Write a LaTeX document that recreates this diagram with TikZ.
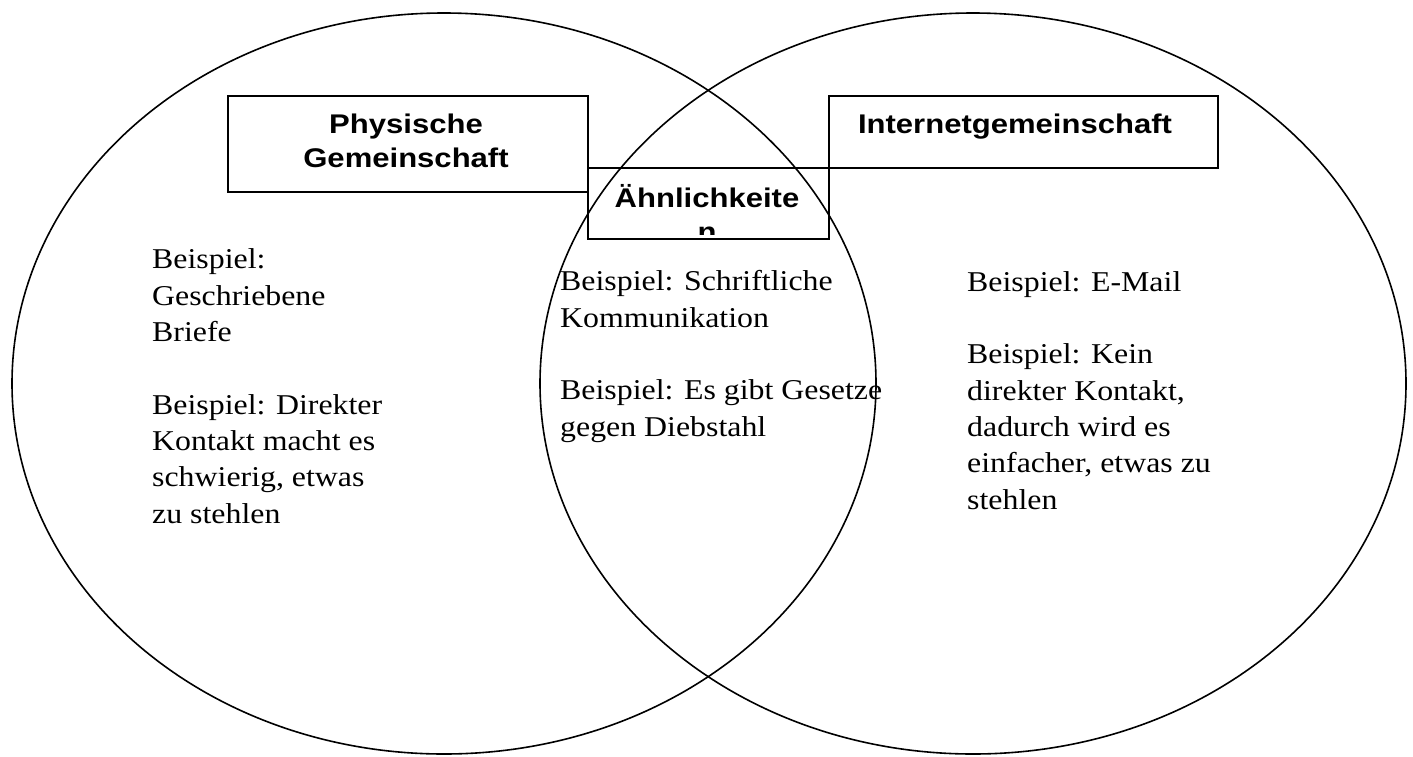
\documentclass[tikz,border=0pt]{standalone}
\usepackage{fontspec}
\setmainfont{Liberation Serif}[FakeStretch=1.11]
\newfontfamily\kopffont{Liberation Sans}[FakeStretch=1.15]

\tikzset{
  kreis/.style={line width=1.6pt},
  kasten/.style={draw,line width=2.5pt,inner sep=0pt},
  kopf/.style={inner sep=0pt,align=center,font=\kopffont\bfseries\fontsize{27}{34}\selectfont},
  beispiel/.style={inner sep=0pt,align=left,anchor=base west,font=\fontsize{28.7}{36.3}\selectfont},
}

\begin{document}
\begin{tikzpicture}[x=1pt,y=-1pt]
\useasboundingbox[fill=white] (0,0) rectangle (1413,756);
% die beiden Mengen
\draw[kreis] (444,383.5) ellipse [x radius=432,y radius=370.5];
\draw[kreis] (973,383.5) ellipse [x radius=433,y radius=370.5];
% Kaesten
\node[kasten,minimum width=360,minimum height=96] (phys) at (408,144) {};
\node[kasten,minimum width=241,minimum height=71] (aehn) at (708.5,203.5) {};
\node[kasten,minimum width=389,minimum height=72] (netz) at (1023.5,132) {};
% (base = letzte Zeile)
\node[kopf,anchor=base] (physkopf) at (406,167) {Physische\\Gemeinschaft};
\node[kopf,anchor=base] (netzkopf) at (1015,133) {Internetgemeinschaft};
\begin{scope}
  \clip (aehn.north west) rectangle ([yshift=6pt]aehn.south east);
  \node[kopf,anchor=base] (aehnkopf) at (707,241) {Ähnlichkeite\\n};
\end{scope}
% Beispiele
\node[beispiel] (links) at (152,523) {Beispiel:\\Geschriebene\\Briefe\\[36.3pt]Beispiel: Direkter\\Kontakt macht es\\schwierig, etwas\\zu stehlen};
\node[beispiel] (mitte) at (560,436) {Beispiel: Schriftliche\\Kommunikation\\[36.3pt]Beispiel: Es gibt Gesetze\\gegen Diebstahl};
\node[beispiel] (rechts) at (967,509) {Beispiel: E-Mail\\[36.3pt]Beispiel: Kein\\direkter Kontakt,\\dadurch wird es\\einfacher, etwas zu\\stehlen};
\end{tikzpicture}
\end{document}
